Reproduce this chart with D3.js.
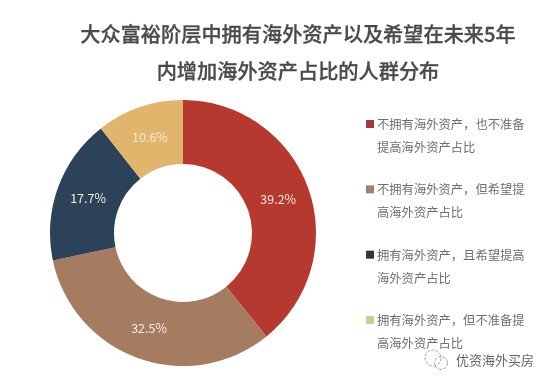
<!DOCTYPE html>
<html>
<head>
<meta charset="utf-8">
<script src="https://cdn.jsdelivr.net/npm/d3@7"></script>
<style>
  html, body { margin: 0; padding: 0; background: #fff; }
  svg { display: block; filter: blur(0.45px); }
  text { font-family: "Noto Sans CJK SC", sans-serif; }
</style>
</head>
<body>
<div class="chart"></div>
<script>
const titleLines = ["大众富裕阶层中拥有海外资产以及希望在未来5年", "内增加海外资产占比的人群分布"];
const categories = [
  ["不拥有海外资产，也不准备", "提高海外资产占比"],
  ["不拥有海外资产，但希望提", "高海外资产占比"],
  ["拥有海外资产，且希望提高", "海外资产占比"],
  ["拥有海外资产，但不准备提", "高海外资产占比"]
];
const values = [39.2, 32.5, 17.7, 10.6];
const colors = ["#b5392f", "#a67c60", "#2c4258", "#e1b56c"];
const legendColors = ["#a5383a", "#9e8273", "#2f363c", "#d9c68f"];
const watermark = "优资海外买房";

const width = 550, height = 385;
const cx = 183, cy = 233, outer = 133, inner = 69;

const svg = d3.select(".chart").append("svg")
    .attr("width", width)
    .attr("height", height);

// title
svg.append("g").selectAll("text")
    .data(titleLines)
  .enter().append("text")
    .attr("x", 298)
    .attr("y", (d, i) => 42 + i * 37)
    .attr("text-anchor", "middle")
    .attr("font-size", 20.2)
    .attr("font-weight", 500)
    .attr("stroke", "#4a4a4a")
    .attr("stroke-width", 0.3)
    .attr("fill", "#4a4a4a")
    .text(d => d);

// donut
const pie = d3.pie().sort(null)(values);
const arc = d3.arc().innerRadius(inner).outerRadius(outer);

const g = svg.append("g")
    .attr("transform", `translate(${cx},${cy})`);

g.selectAll("path")
    .data(pie)
  .enter().append("path")
    .attr("d", arc)
    .attr("fill", (d, i) => colors[i]);

g.selectAll("text")
    .data(pie)
  .enter().append("text")
    .attr("transform", d => `translate(${arc.centroid(d)})`)
    .attr("text-anchor", "middle")
    .attr("dy", "0.36em")
    .attr("font-size", 12.5)
    .attr("fill", "#f7e9df")
    .text(d => d.value.toFixed(1) + "%");

// legend
const legendY = d3.scaleLinear().domain([0, 3]).range([124, 320]);

const legend = svg.append("g").selectAll("g")
    .data(categories)
  .enter().append("g")
    .attr("transform", (d, i) => `translate(366,${legendY(i)})`);

legend.append("rect")
    .attr("y", -4)
    .attr("width", 8)
    .attr("height", 8)
    .attr("fill", (d, i) => legendColors[i]);

legend.selectAll("text")
    .data(d => d)
  .enter().append("text")
    .attr("x", 11)
    .attr("y", (d, i) => 5 + i * 23)
    .attr("font-size", 12.3)
    .attr("fill", "#6e6e6e")
    .text(d => d);

// watermark
const mark = svg.append("g").attr("transform", "translate(436,360)")
    .attr("fill", "none")
    .attr("stroke", "#a0a0a0")
    .attr("stroke-width", 1)
    .attr("stroke-dasharray", "3 1.5");
mark.append("circle").attr("cx", -3).attr("cy", -2).attr("r", 8);
mark.append("circle").attr("cx", 5).attr("cy", 3).attr("r", 6.5);

svg.append("text")
    .attr("x", 456)
    .attr("y", 365)
    .attr("font-size", 13)
    .attr("fill", "#666")
    .text(watermark);
</script>
</body>
</html>
